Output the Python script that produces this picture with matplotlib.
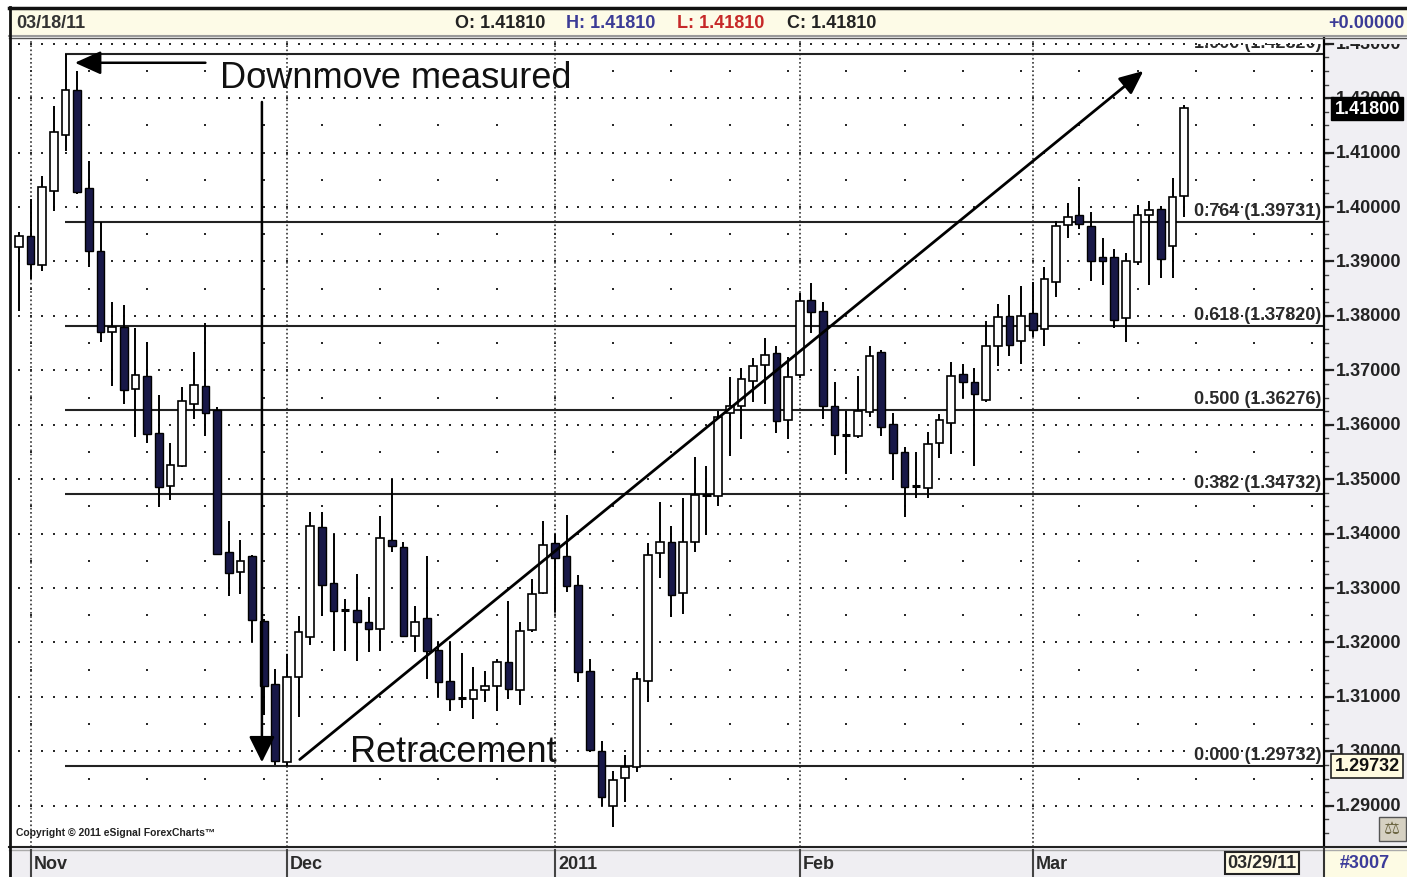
import numpy as np
import pandas as pd
import matplotlib
matplotlib.use('Agg')
import matplotlib.pyplot as plt
from matplotlib.patches import Rectangle
from matplotlib import transforms

plt.rcParams['font.family'] = ['Liberation Sans', 'DejaVu Sans']

# --- datos (EUR/USD diario, 29-oct-2010 a 18-mar-2011) ---
opens = [1.3927, 1.3947, 1.3893, 1.4029, 1.4132, 1.4215, 1.4035, 1.3919, 1.3770, 1.3780,
         1.3666, 1.3690, 1.3585, 1.3487, 1.3524, 1.3638, 1.3671, 1.3627, 1.3366, 1.3329,
         1.3359, 1.3239, 1.3124, 1.2980, 1.3137, 1.3210, 1.3412, 1.3309, 1.3260, 1.3260,
         1.3238, 1.3225, 1.3388, 1.3375, 1.3212, 1.3245, 1.3186, 1.3129, 1.3098, 1.3096,
         1.3113, 1.3120, 1.3164, 1.3113, 1.3223, 1.3291, 1.3383, 1.3359, 1.3306, 1.3148,
         1.3001, 1.2900, 1.2951, 1.2971, 1.3129, 1.3364, 1.3385, 1.3291, 1.3385, 1.3471,
         1.3469, 1.3622, 1.3634, 1.3680, 1.3710, 1.3732, 1.3609, 1.3691, 1.3829, 1.3809,
         1.3634, 1.3581, 1.3579, 1.3623, 1.3734, 1.3601, 1.3550, 1.3487, 1.3484, 1.3566,
         1.3603, 1.3693, 1.3678, 1.3645, 1.3745, 1.3800, 1.3754, 1.3805, 1.3776, 1.3862,
         1.3967, 1.3985, 1.3965, 1.3908, 1.3908, 1.3796, 1.3899, 1.3985, 1.3996, 1.3928,
         1.4020]
highs = [1.3954, 1.4015, 1.4057, 1.4186, 1.4282, 1.4250, 1.4085, 1.3972, 1.3825, 1.3820,
         1.3778, 1.3752, 1.3655, 1.3566, 1.3669, 1.3734, 1.3787, 1.3633, 1.3423, 1.3388,
         1.3361, 1.3243, 1.3151, 1.3179, 1.3249, 1.3440, 1.3440, 1.3399, 1.3280, 1.3326,
         1.3283, 1.3432, 1.3500, 1.3385, 1.3267, 1.3359, 1.3201, 1.3201, 1.3181, 1.3155,
         1.3148, 1.3170, 1.3276, 1.3238, 1.3317, 1.3423, 1.3399, 1.3434, 1.3324, 1.3170,
         1.3019, 1.2964, 1.2993, 1.3146, 1.3383, 1.3458, 1.3414, 1.3465, 1.3541, 1.3524,
         1.3625, 1.3688, 1.3704, 1.3723, 1.3759, 1.3745, 1.3724, 1.3842, 1.3860, 1.3825,
         1.3678, 1.3625, 1.3690, 1.3745, 1.3737, 1.3622, 1.3559, 1.3550, 1.3587, 1.3620,
         1.3715, 1.3712, 1.3704, 1.3791, 1.3822, 1.3838, 1.3855, 1.3862, 1.3890, 1.3974,
         1.4007, 1.4037, 1.3991, 1.3943, 1.3923, 1.3915, 1.4004, 1.4011, 1.4002, 1.4053,
         1.4187]
lows = [1.3809, 1.3868, 1.3882, 1.3993, 1.4103, 1.4024, 1.3890, 1.3752, 1.3671, 1.3638,
        1.3577, 1.3566, 1.3449, 1.3462, 1.3522, 1.3611, 1.3579, 1.3361, 1.3285, 1.3289,
        1.3201, 1.3067, 1.2975, 1.2973, 1.3063, 1.3195, 1.3249, 1.3184, 1.3184, 1.3166,
        1.3182, 1.3184, 1.3366, 1.3210, 1.3182, 1.3133, 1.3100, 1.3074, 1.3080, 1.3059,
        1.3091, 1.3074, 1.3096, 1.3085, 1.3219, 1.3289, 1.3256, 1.3293, 1.3127, 1.2999,
        1.2900, 1.2861, 1.2907, 1.2962, 1.3091, 1.3318, 1.3247, 1.3252, 1.3366, 1.3397,
        1.3451, 1.3543, 1.3574, 1.3642, 1.3638, 1.3585, 1.3574, 1.3686, 1.3769, 1.3611,
        1.3544, 1.3509, 1.3576, 1.3614, 1.3579, 1.3498, 1.3430, 1.3465, 1.3465, 1.3539,
        1.3546, 1.3649, 1.3524, 1.3642, 1.3708, 1.3726, 1.3712, 1.3761, 1.3745, 1.3835,
        1.3943, 1.3960, 1.3864, 1.3857, 1.3778, 1.3752, 1.3893, 1.3857, 1.3870, 1.3870,
        1.3982]
closes = [1.3947, 1.3895, 1.4037, 1.4138, 1.4215, 1.4028, 1.3919, 1.3770, 1.3780, 1.3664,
          1.3691, 1.3583, 1.3486, 1.3526, 1.3644, 1.3673, 1.3622, 1.3363, 1.3328, 1.3350,
          1.3241, 1.3120, 1.2982, 1.3137, 1.3219, 1.3414, 1.3306, 1.3258, 1.3260, 1.3238,
          1.3225, 1.3392, 1.3377, 1.3212, 1.3238, 1.3184, 1.3127, 1.3096, 1.3098, 1.3113,
          1.3120, 1.3164, 1.3115, 1.3221, 1.3289, 1.3379, 1.3355, 1.3304, 1.3146, 1.3002,
          1.2916, 1.2947, 1.2971, 1.3133, 1.3361, 1.3385, 1.3287, 1.3385, 1.3471, 1.3471,
          1.3614, 1.3634, 1.3684, 1.3708, 1.3728, 1.3607, 1.3688, 1.3827, 1.3807, 1.3634,
          1.3581, 1.3581, 1.3625, 1.3726, 1.3596, 1.3548, 1.3486, 1.3487, 1.3565, 1.3609,
          1.3690, 1.3678, 1.3656, 1.3745, 1.3798, 1.3746, 1.3800, 1.3774, 1.3868, 1.3965,
          1.3982, 1.3969, 1.3901, 1.3901, 1.3792, 1.3901, 1.3985, 1.3994, 1.3904, 1.4018,
          1.4181]

fib_ratios = [1.000, 0.764, 0.618, 0.500, 0.382, 0.000]
fib_levels = [1.42820, 1.39731, 1.37820, 1.36276, 1.34732, 1.29732]

price_ticks = np.round(np.arange(1.29, 1.4301, 0.01), 2)
header_ohlc = [('O', 1.41810), ('H', 1.41810), ('L', 1.41810), ('C', 1.41810)]
header_colors = ['#222222', '#3b3b96', '#c62828', '#222222']
header_date = '03/18/11'
footer_date = '03/29/11'
last_price_txt = '1.41800'
low_price_txt = '1.29732'
chart_id = '#3007'

dates = pd.bdate_range('2010-10-29', periods=len(closes))
grid_days = pd.bdate_range('2010-10-29', periods=112)

O = np.array(opens); Hh = np.array(highs); L = np.array(lows); C = np.array(closes)
x = np.arange(len(C))

W, H = 1407, 878
fig = plt.figure(figsize=(W / 100, H / 100), dpi=100)
fig.patch.set_facecolor('white')


def box(x0, y0, x1, y1):
    return [x0 / W, 1 - y1 / H, (x1 - x0) / W, (y1 - y0) / H]


ylo, yhi = 1.28242, 1.43105
# recorte superior: el texto pegado a la cabecera queda medio oculto
top_clip = Rectangle((0, 0), W, H - 45, transform=transforms.IdentityTransform())

# --- panel principal ---
ax = fig.add_axes(box(10, 39, 1324, 848))
ax.set_xlim(-0.77, 112.0)
ax.set_ylim(ylo, yhi)
ax.set_xticks([]); ax.set_yticks([])
for s in ax.spines.values():
    s.set_visible(False)

# rejilla de puntos
xg = np.arange(len(grid_days))
for p in price_ticks:
    ax.plot(xg, np.full(len(xg), p), ls='none', marker='s', ms=1.5, mew=0, color='#2a2a2a', zorder=1)
mondays = xg[grid_days.weekday == 0]
for p in price_ticks[:-1] + 0.005:
    ax.plot(mondays, np.full(len(mondays), p), ls='none', marker='s', ms=1.5, mew=0, color='#2a2a2a', zorder=1)

month_idx = [i for i in range(1, len(dates)) if dates[i].month != dates[i - 1].month]
month_lbl = [str(dates[i].year) if dates[i].month == 1 else dates[i].strftime('%b') for i in month_idx]
for i in month_idx:
    ax.axvline(i, color='#333333', lw=1.2, ls=(0, (1, 1.5)), zorder=1)

# niveles de Fibonacci
ax.hlines(fib_levels, 3.95, 112.0, colors='#222222', lw=1.5, zorder=2)
for r, lv in zip(fib_ratios, fib_levels):
    t = ax.annotate(f'{r:.3f} ({lv:.5f})', xy=(111.75, lv), xytext=(0, 2), textcoords='offset points',
                    ha='right', va='bottom', fontsize=13, weight='bold', color='#2a2a2a',
                    clip_on=True, zorder=2)
    t.set_clip_path(top_clip)

# velas
up = C > O + 0.0001
dn = C < O - 0.0001
dj = ~(up | dn)
ax.vlines(x, L, Hh, color='black', lw=1.4, zorder=3)
ax.bar(x[up], (C - O)[up], bottom=O[up], width=0.66, color='white',
       edgecolor='black', linewidth=1.2, zorder=4)
ax.bar(x[dn], (O - C)[dn], bottom=C[dn], width=0.66, color='#181848',
       edgecolor='black', linewidth=1.0, zorder=4)
ax.hlines(C[dj], x[dj] - 0.36, x[dj] + 0.36, color='black', lw=2.2, zorder=4)

# flechas y textos
ax.annotate('', xy=(4.8, 1.4265), xytext=(16.0, 1.4265),
            arrowprops=dict(arrowstyle='-|>,head_length=1.0,head_width=0.45', lw=1.8,
                            color='black', mutation_scale=16, shrinkA=0, shrinkB=0), zorder=6)
ax.annotate('', xy=(20.85, 1.2980), xytext=(20.85, 1.4193),
            arrowprops=dict(arrowstyle='-|>,head_length=1.0,head_width=0.5', lw=1.8,
                            color='black', mutation_scale=16, shrinkA=0, shrinkB=0), zorder=6)
ax.annotate('', xy=(96.5, 1.4250), xytext=(24.1, 1.2985),
            arrowprops=dict(arrowstyle='-|>,head_length=0.9,head_width=0.4', lw=2.0,
                            color='black', mutation_scale=16, shrinkA=0, shrinkB=0), zorder=6)
ax.text(17.25, 1.4221, 'Downmove measured', fontsize=26, ha='left', va='baseline', color='#111111', zorder=6)
ax.text(28.4, 1.2982, 'Retracement', fontsize=26, ha='left', va='baseline', color='#111111', zorder=6)

# --- eje de precios a la derecha ---
axr = fig.add_axes(box(1324, 39, 1407, 848))
axr.set_facecolor('#f0eff3')
axr.set_xlim(0, 1)
axr.set_ylim(ylo, yhi)
axr.set_xticks([]); axr.set_yticks([])
for k in ['top', 'right', 'bottom']:
    axr.spines[k].set_visible(False)
axr.spines['left'].set_linewidth(1.6)
for p in np.arange(1.28, 1.4351, 0.0025):
    axr.plot([0, 0.05], [p, p], color='#444444', lw=1.0)
for p in price_ticks:
    axr.plot([0, 0.11], [p, p], color='#222222', lw=1.6)
    t = axr.text(0.14, p, f'{p:.5f}', ha='left', va='center', fontsize=13, weight='bold',
                 color='#222222', clip_on=True)
    t.set_clip_path(top_clip)
axr.text(0.52, C[-1], last_price_txt, ha='center', va='center', fontsize=13, weight='bold',
         color='white', zorder=5, bbox=dict(boxstyle='square,pad=0.18', fc='black', ec='black'))
axr.text(0.52, fib_levels[-1], low_price_txt, ha='center', va='center', fontsize=13, weight='bold',
         color='#111111', zorder=5, bbox=dict(boxstyle='square,pad=0.18', fc='#fffbe0', ec='#222222', lw=1.2))

# --- marco, cabecera y pie ---
fr = fig.add_axes([0, 0, 1, 1], zorder=10)
fr.set_xlim(0, W); fr.set_ylim(H, 0)
fr.axis('off')
fr.patch.set_alpha(0)

fr.add_patch(Rectangle((9, 9), W - 9, 28, fc='#fdfbe7', ec='none'))
fr.plot([9, W], [8.5, 8.5], color='#111111', lw=2.5)
fr.plot([9, W], [36.5, 36.5], color='#9a9a9a', lw=1.5)
fr.plot([9, W], [39, 39], color='#555555', lw=1.0)
fr.text(16, 23, header_date, ha='left', va='center', fontsize=13, weight='bold', color='#333333')
for (k, v), c, xp in zip(header_ohlc, header_colors, [455, 566, 677, 787]):
    fr.text(xp, 23, f'{k}: {v:.5f}', ha='left', va='center', fontsize=13, weight='bold', color=c)
fr.text(1405, 23, '+0.00000', ha='right', va='center', fontsize=13, weight='bold', color='#3b3b96')

fr.add_patch(Rectangle((9, 849), W - 9, 29, fc='#efeef2', ec='none'))
fr.add_patch(Rectangle((1324, 850), W - 1324, 28, fc='#fdfbe4', ec='none'))
fr.plot([9, W], [848.5, 848.5], color='#222222', lw=1.5)
fr.plot([9, W], [851, 851], color='#aaaaaa', lw=1.0)
fr.plot([1323.5, 1323.5], [849, H], color='#333333', lw=1.5)
trans = transforms.blended_transform_factory(ax.transData, fr.transData)
for i, lbl in zip(month_idx, month_lbl):
    fr.plot([i, i], [851, H], color='#444444', lw=1.5, transform=trans)
    fr.text(i + 0.25, 865, lbl, ha='left', va='center', fontsize=13, weight='bold',
            color='#2a2a2a', transform=trans)
fr.text(1262, 864, footer_date, ha='center', va='center', fontsize=13, weight='bold', color='#2a2a2a',
        bbox=dict(boxstyle='square,pad=0.15', fc='#fffbe6', ec='#222222', lw=1.5))
fr.text(1365, 864, chart_id, ha='center', va='center', fontsize=13, weight='bold', color='#3c3c9a')

fr.text(16, 833, 'Copyright \u00a9 2011 eSignal ForexCharts\u2122', ha='left', va='center',
        fontsize=7.5, weight='bold', color='#222222')
fr.add_patch(Rectangle((1379, 818), 27, 24, fc='#d6d1c2', ec='#555555', lw=1.0))
fr.text(1392.5, 830, '\u2696', ha='center', va='center', fontsize=13, color='#6a6440')

fr.plot([9.5, 9.5], [8, H], color='#111111', lw=2)

fig.savefig('out.png', dpi=100)
